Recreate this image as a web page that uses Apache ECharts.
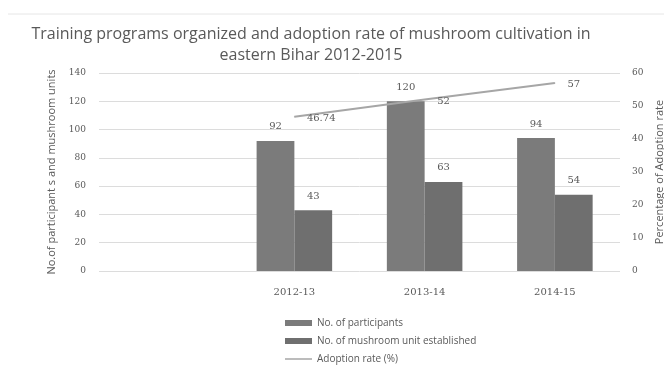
<!DOCTYPE html>
<html><head><meta charset="utf-8">
<script src="https://cdn.jsdelivr.net/npm/echarts@6/dist/echarts.min.js"></script>
<style>html,body{margin:0;padding:0;background:#fff}#c{width:664px;height:373px}</style>
</head><body><div id="c"></div>
<script>
const categories = ['', '2012-13', '2013-14', '2014-15'];
const participants = [null, 92, 120, 94];
const units = [null, 43, 63, 54];
const adoption = [null, 46.74, 52, 57];
const leftTicks = [0, 140, 20];
const rightTicks = [0, 60, 10];

const chart = echarts.init(document.getElementById('c'));
const txt = '#595959';
chart.setOption({
  animation: false,
  backgroundColor: '#fff',
  title: {
    text: 'Training programs organized and adoption rate of mushroom cultivation in\neastern Bihar 2012-2015',
    left: 306, top: 19, textAlign: 'center',
    textStyle: { fontFamily: 'Open Sans', fontSize: 16, fontWeight: 'normal', color: txt, lineHeight: 21 }
  },
  graphic: [{ type: 'line', shape: { x1: 8, y1: 14, x2: 664, y2: 14 }, style: { stroke: '#e6e6e6', lineWidth: 1 } }],
  legend: {
    orient: 'vertical', left: 280, top: 313, itemGap: 8, itemWidth: 27, itemHeight: 6,
    textStyle: { fontFamily: 'Open Sans', fontSize: 10, color: txt },
    data: [
      { name: 'No. of participants', icon: 'rect' },
      { name: 'No. of mushroom unit established', icon: 'rect' },
      { name: 'Adoption rate (%)', icon: 'path://M0,0 L27,0 L27,1.5 L0,1.5 Z' }
    ]
  },
  grid: { left: 99, right: 44, top: 73, bottom: 102, outerBoundsMode: 'none', containLabel: false },
  xAxis: {
    type: 'category', data: categories,
    axisLine: { show: false }, axisTick: { show: false },
    axisLabel: { fontFamily: 'DejaVu Serif', fontSize: 10, color: txt, margin: 16 }
  },
  yAxis: [{
    type: 'value', min: leftTicks[0], max: leftTicks[1], interval: leftTicks[2],
    name: 'No.of participant s and mushroom units', nameLocation: 'middle', nameGap: 42, nameRotate: 90,
    nameTextStyle: { fontFamily: 'Open Sans', fontSize: 11, color: txt },
    axisLine: { show: false }, axisTick: { show: false },
    axisLabel: { fontFamily: 'DejaVu Serif', fontSize: 9, color: txt, margin: 13 },
    splitLine: { lineStyle: { color: '#dcdcdc' } }
  }, {
    type: 'value', min: rightTicks[0], max: rightTicks[1], interval: rightTicks[2],
    name: 'Percentage of Adoption rate', nameLocation: 'middle', nameGap: 30, nameRotate: 90,
    nameTextStyle: { fontFamily: 'Open Sans', fontSize: 11, color: txt },
    axisLine: { show: false }, axisTick: { show: false },
    axisLabel: { fontFamily: 'DejaVu Serif', fontSize: 9, color: txt, margin: 12 },
    splitLine: { show: false }
  }],
  series: [{
    name: 'No. of participants', type: 'bar', data: participants,
    barGap: '0%', barCategoryGap: '42%',
    itemStyle: { color: '#7b7b7b' },
    label: { show: true, position: 'top', fontFamily: 'DejaVu Serif', fontSize: 10, color: txt, distance: 9 }
  }, {
    name: 'No. of mushroom unit established', type: 'bar', data: units,
    itemStyle: { color: '#6f6f6f' },
    label: { show: true, position: 'top', fontFamily: 'DejaVu Serif', fontSize: 10, color: txt, distance: 9 }
  }, {
    name: 'Adoption rate (%)', type: 'line', yAxisIndex: 1, data: adoption,
    symbol: 'circle', symbolSize: 1, showSymbol: true,
    lineStyle: { color: '#a6a6a6', width: 2 }, itemStyle: { color: '#a6a6a6' },
    label: { show: true, position: 'right', fontFamily: 'DejaVu Serif', fontSize: 10, color: txt, distance: 12, offset: [0, 2] }
  }]
});
</script></body></html>
